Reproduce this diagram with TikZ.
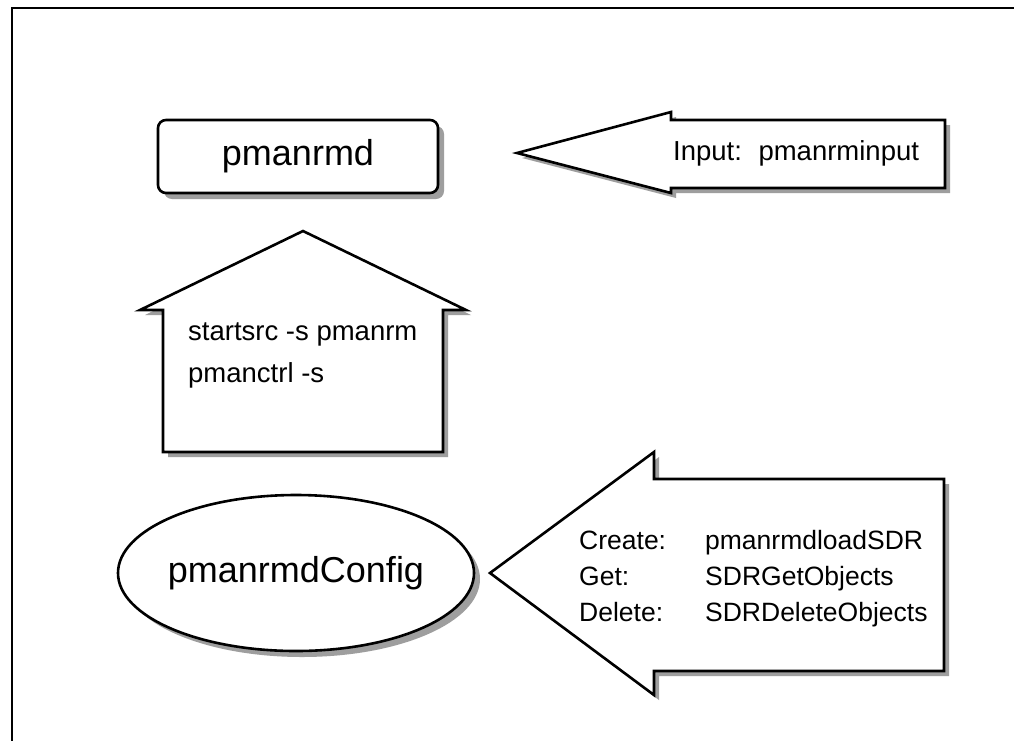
\documentclass[tikz,border=0pt]{standalone}
\usepackage{fontspec}
\setmainfont{Liberation Sans}
\begin{document}
\begin{tikzpicture}[x=1pt,y=-1pt,
  outline/.style={draw=black,line width=2.6pt,fill=white,line join=miter},
  shadow/.style={fill=black!38,draw=none},
  lbl/.style={font=\fontsize{27.5}{36}\selectfont,inner sep=0pt},
  ops/.style={font=\fontsize{26.5}{36}\selectfont,inner sep=0pt,anchor=base west},
  big/.style={font=\fontsize{36}{40}\selectfont,inner sep=0pt}]
\useasboundingbox (0,0) rectangle (1014,740);
\fill[white] (0,0) rectangle (1014,740);
\draw[line width=2.2pt] (12,745) -- (12,8) -- (1020,8);

% pmanrmd box
\fill[shadow,rounded corners=8pt] (164,126) rectangle (444,199);
\draw[outline,rounded corners=8pt] (158,120) rectangle (438,193);
\node[big] (pmanrmd) at (298,156.5) {pmanrmd};

% input arrow
\fill[shadow] (522,158) -- (676,117) -- (676,125) -- (950,125) -- (950,193) -- (676,193) -- (676,198) -- cycle;
\draw[outline] (517,153) -- (671,112) -- (671,120) -- (945,120) -- (945,188) -- (671,188) -- (671,193) -- cycle;
\node[lbl,anchor=west] (inlbl) at (673,153) {Input:\hspace{0.6em}pmanrminput};

% up arrow (house)
\fill[shadow] (308,236) -- (471,315) -- (448,315) -- (448,457) -- (168,457) -- (168,315) -- (145,315) -- cycle;
\draw[outline] (303,231) -- (466,310) -- (443,310) -- (443,452) -- (163,452) -- (163,310) -- (140,310) -- cycle;
\node[lbl,anchor=base west] (cmd1) at (188,340) {startsrc -s pmanrm};
\node[lbl,anchor=base west] (cmd2) at (188,382) {pmanctrl -s};

% ellipse
\fill[shadow] (302,579) ellipse [x radius=178, y radius=78];
\draw[outline] (296,573) ellipse [x radius=178, y radius=78];
\node[big] (config) at (296,573) {pmanrmdConfig};

% big arrow
\fill[shadow] (495,578) -- (659,457) -- (659,484) -- (949,484) -- (949,676) -- (659,676) -- (659,700) -- cycle;
\draw[outline] (490,573) -- (654,452) -- (654,479) -- (944,479) -- (944,671) -- (654,671) -- (654,695) -- cycle;
\node[ops] (create) at (579,549) {\makebox[126pt][l]{Create:}pmanrmdloadSDR};
\node[ops] (get) at (579,585) {\makebox[126pt][l]{Get:}SDRGetObjects};
\node[ops] (delete) at (579,621) {\makebox[126pt][l]{Delete:}SDRDeleteObjects};
\end{tikzpicture}
\end{document}
